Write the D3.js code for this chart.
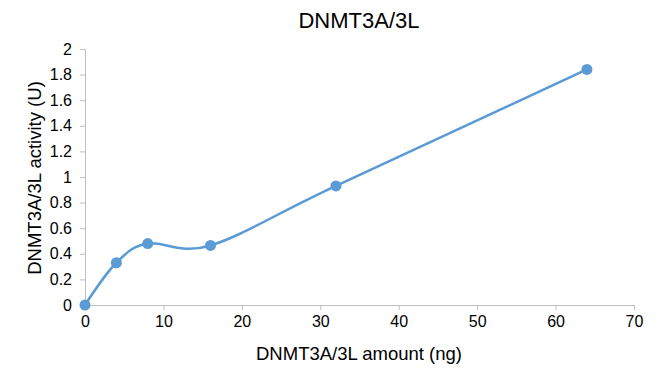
<!DOCTYPE html>
<html><head><meta charset="utf-8">
<script src="https://cdn.jsdelivr.net/npm/d3@7"></script>
<style>body{margin:0;background:#fff}svg{display:block;font-family:"Liberation Sans",Arial,sans-serif}</style>
</head><body>
<svg id="c" width="661" height="382"></svg>
<script>
const amounts = [0, 4, 8, 16, 32, 64];
const activity = [0, 0.33, 0.48, 0.465, 0.93, 1.84];
const xTicks = [0, 10, 20, 30, 40, 50, 60, 70];
const yTicks = [0, 0.2, 0.4, 0.6, 0.8, 1, 1.2, 1.4, 1.6, 1.8, 2];
const title = "DNMT3A/3L";
const xLabel = "DNMT3A/3L amount (ng)";
const yLabel = "DNMT3A/3L activity (U)";

const svg = d3.select("#c");
const x = d3.scaleLinear().domain([0, 70]).range([85, 634]);
const y = d3.scaleLinear().domain([0, 2]).range([305, 49]);
const axisColor = "#bfbfbf";

const gx = svg.append("g").attr("transform", "translate(0,305)")
  .call(d3.axisBottom(x).tickValues(xTicks).tickSize(5).tickSizeOuter(0).tickPadding(6).tickFormat(d3.format("d")));
const gy = svg.append("g").attr("transform", "translate(85,0)")
  .call(d3.axisLeft(y).tickValues(yTicks).tickSize(5).tickSizeOuter(0).tickPadding(8).tickFormat(d => String(d)));
[gx, gy].forEach(g => {
  g.select(".domain").attr("stroke", axisColor).attr("stroke-width", 1);
  g.selectAll(".tick line").attr("stroke", axisColor);
  g.selectAll(".tick text").attr("fill", "#000").attr("font-size", 16).attr("font-family", "Liberation Sans, Arial, sans-serif");
});

const data = amounts.map((a, i) => ({a, v: activity[i]}));
svg.append("path").datum(data)
  .attr("fill", "none").attr("stroke", "#5b9bd5").attr("stroke-width", 2.5)
  .attr("d", d3.line().x(d => x(d.a)).y(d => y(d.v)).curve(d3.curveCardinal.tension(0)));
svg.selectAll("circle.pt").data(data).enter().append("circle")
  .attr("class", "pt").attr("cx", d => x(d.a)).attr("cy", d => y(d.v)).attr("r", 5.5)
  .attr("fill", "#5b9bd5");

svg.append("text").attr("x", 359).attr("y", 28).attr("text-anchor", "middle")
  .attr("font-size", 22).attr("fill", "#000").text(title);
svg.append("text").attr("x", 359).attr("y", 360).attr("text-anchor", "middle")
  .attr("font-size", 18.5).attr("fill", "#000").text(xLabel);
svg.append("text").attr("transform", "translate(41,178) rotate(-90)").attr("text-anchor", "middle")
  .attr("font-size", 18.5).attr("fill", "#000").text(yLabel);
</script>
</body></html>
